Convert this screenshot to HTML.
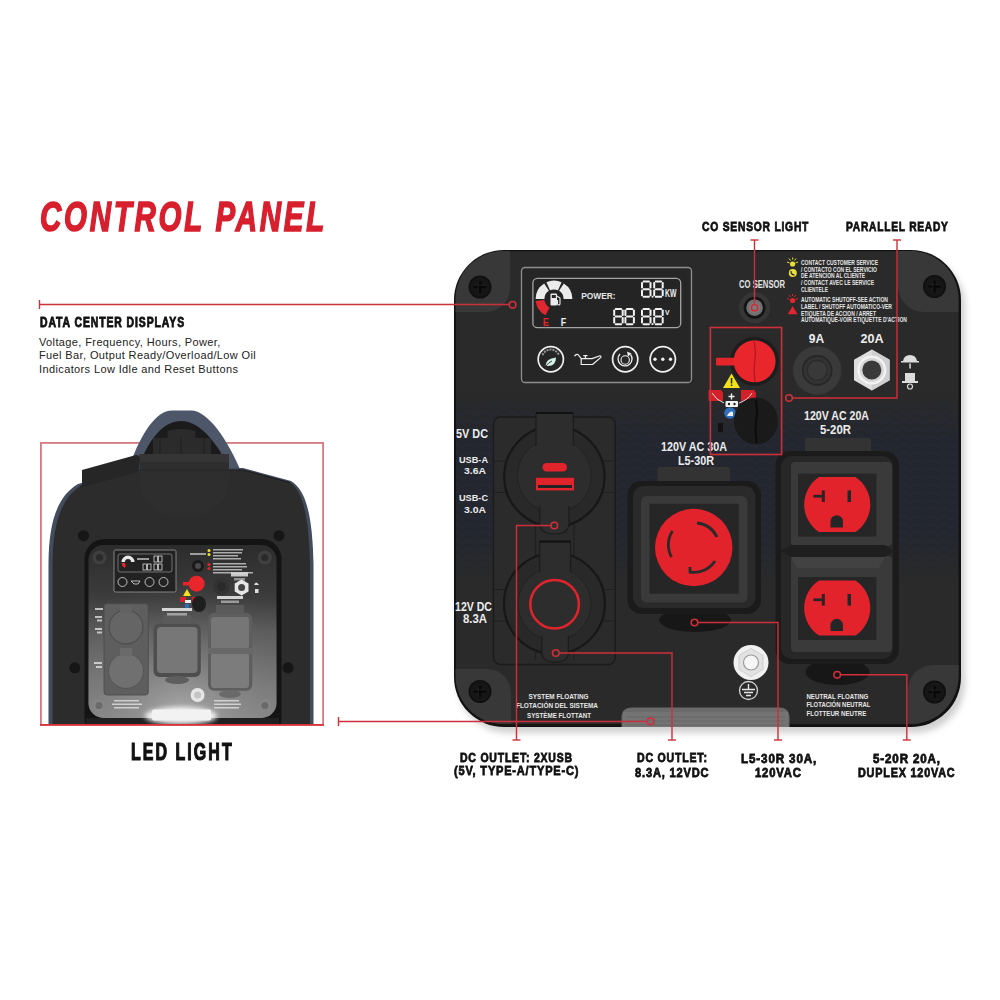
<!DOCTYPE html>
<html><head><meta charset="utf-8">
<style>
*{box-sizing:border-box;margin:0;padding:0}
html,body{width:1000px;height:1000px;background:#fff;overflow:hidden}
body{position:relative;font-family:"Liberation Sans",sans-serif}
.t{position:absolute;white-space:nowrap;transform-origin:0 0;line-height:1;font-weight:bold;color:#111;letter-spacing:0.5px;-webkit-text-stroke:0.55px #111}
svg{position:absolute;left:0;top:0}
svg text{font-family:"Liberation Sans",sans-serif}
</style></head><body>
<div class="t" style="left:39.5px;top:196.3px;font-size:42.3px;transform:scaleX(0.696);font-style:italic;color:#d71f2e;letter-spacing:4px;-webkit-text-stroke:1.6px #d71f2e">CONTROL PANEL</div>
<div class="t" style="left:39.5px;top:316.3px;font-size:13.8px;transform:scaleX(0.756);letter-spacing:1.2px;-webkit-text-stroke:0.85px #111">DATA CENTER DISPLAYS</div>
<div class="t" style="left:131.0px;top:740.6px;font-size:23.5px;transform:scaleX(0.68);letter-spacing:3px;-webkit-text-stroke:1.2px #111">LED LIGHT</div>
<div class="t" style="left:702.0px;top:220.3px;font-size:13.5px;transform:scaleX(0.764);letter-spacing:1px;-webkit-text-stroke:0.8px #111">CO SENSOR LIGHT</div>
<div class="t" style="left:846.0px;top:220.3px;font-size:13.5px;transform:scaleX(0.756);letter-spacing:1px;-webkit-text-stroke:0.8px #111">PARALLEL READY</div>
<div class="t" style="left:460.0px;top:751.3px;font-size:13.5px;transform:scaleX(0.778);letter-spacing:1px;-webkit-text-stroke:0.8px #111">DC OUTLET: 2XUSB</div>
<div class="t" style="left:454.0px;top:764.3px;font-size:13.5px;transform:scaleX(0.816);letter-spacing:1px;-webkit-text-stroke:0.8px #111">(5V, TYPE-A/TYPE-C)</div>
<div class="t" style="left:637.0px;top:751.3px;font-size:13.5px;transform:scaleX(0.784);letter-spacing:1px;-webkit-text-stroke:0.8px #111">DC OUTLET:</div>
<div class="t" style="left:635.0px;top:766.3px;font-size:13.5px;transform:scaleX(0.822);letter-spacing:1px;-webkit-text-stroke:0.8px #111">8.3A, 12VDC</div>
<div class="t" style="left:741.0px;top:752.3px;font-size:13.5px;transform:scaleX(0.862);letter-spacing:1px;-webkit-text-stroke:0.8px #111">L5-30R 30A,</div>
<div class="t" style="left:755.0px;top:766.3px;font-size:13.5px;transform:scaleX(0.836);letter-spacing:1px;-webkit-text-stroke:0.8px #111">120VAC</div>
<div class="t" style="left:873.0px;top:752.3px;font-size:13.5px;transform:scaleX(0.859);letter-spacing:1px;-webkit-text-stroke:0.8px #111">5-20R 20A,</div>
<div class="t" style="left:858.0px;top:766.3px;font-size:13.5px;transform:scaleX(0.802);letter-spacing:1px;-webkit-text-stroke:0.8px #111">DUPLEX 120VAC</div>
<div class="t" style="left:39px;top:336px;font-size:11px;line-height:13.3px;font-weight:normal;color:#222;letter-spacing:0.38px;-webkit-text-stroke:0">Voltage, Frequency, Hours, Power,<br>Fuel Bar, Output Ready/Overload/Low Oil<br>Indicators Low Idle and Reset Buttons</div>
<svg width="1000" height="1000" viewBox="0 0 1000 1000">
<defs>
  <filter id="blur3" x="-20%" y="-20%" width="140%" height="140%"><feGaussianBlur stdDeviation="3"/></filter>
  <filter id="blur1" x="-20%" y="-20%" width="140%" height="140%"><feGaussianBlur stdDeviation="1"/></filter>
  <linearGradient id="navy" x1="0" y1="0" x2="0" y2="1">
    <stop offset="0" stop-color="#1c2030" stop-opacity="0"/>
    <stop offset="0.25" stop-color="#1c2234" stop-opacity="0.75"/>
    <stop offset="0.75" stop-color="#1c2234" stop-opacity="0.75"/>
    <stop offset="1" stop-color="#1c2030" stop-opacity="0"/>
  </linearGradient>
  <pattern id="weave" width="14" height="8" patternUnits="userSpaceOnUse">
    <path d="M0,8 Q7,0 14,8" fill="none" stroke="#2c3450" stroke-width="2" opacity="0.6"/>
  </pattern>
</defs>

<!-- panel shadow -->
<rect x="458" y="256" width="507" height="477" rx="50" fill="#bdbdbd" filter="url(#blur3)" opacity="0.7"/>
<!-- panel -->
<rect x="454" y="250" width="507" height="477" rx="50" fill="#121212"/>
<rect x="456" y="251.2" width="502.5" height="473" rx="48" fill="#2a2a2a"/>
<!-- navy texture band -->
<rect x="456" y="392" width="502" height="190" fill="url(#navy)" opacity="0.6"/>
<rect x="456" y="405" width="502" height="160" fill="url(#weave)" opacity="0.25"/>

<!-- corner pads -->
<path d="M455.5,312 L455.5,299 A48,48 0 0 1 503.5,251 L510,251 L510,288 A24,24 0 0 1 486,312 Z" fill="#383838"/>
<path d="M958.5,312 L958.5,299 A48,48 0 0 0 910.5,251 L898,251 L898,286 A26,26 0 0 0 924,312 Z" fill="#383838"/>
<path d="M455.5,669 L455.5,676 A48,48 0 0 0 503.5,724 L511,724 L511,693 A24,24 0 0 0 487,669 Z" fill="#383838"/>
<path d="M958.5,665 L958.5,676 A48,48 0 0 1 910.5,724 L908,724 L908,690 A25,25 0 0 1 933,665 Z" fill="#383838"/>
<g transform="translate(480,287)"><circle r="11.5" fill="#101010"/>
    <circle r="9.8" fill="#161616"/>
    <path d="M-6,0 H6 M0,-6 V6" stroke="#080808" stroke-width="2.4"/>
    <path d="M-5.5,-1.8 H5.5 M-1.8,-5.5 V5.5" stroke="#222" stroke-width="0.8"/></g>
<g transform="translate(934.5,286.5)"><circle r="11.5" fill="#101010"/>
    <circle r="9.8" fill="#161616"/>
    <path d="M-6,0 H6 M0,-6 V6" stroke="#080808" stroke-width="2.4"/>
    <path d="M-5.5,-1.8 H5.5 M-1.8,-5.5 V5.5" stroke="#222" stroke-width="0.8"/></g>
<g transform="translate(480,691.5)"><circle r="11.5" fill="#101010"/>
    <circle r="9.8" fill="#161616"/>
    <path d="M-6,0 H6 M0,-6 V6" stroke="#080808" stroke-width="2.4"/>
    <path d="M-5.5,-1.8 H5.5 M-1.8,-5.5 V5.5" stroke="#222" stroke-width="0.8"/></g>
<g transform="translate(934.5,692)"><circle r="11.5" fill="#101010"/>
    <circle r="9.8" fill="#161616"/>
    <path d="M-6,0 H6 M0,-6 V6" stroke="#080808" stroke-width="2.4"/>
    <path d="M-5.5,-1.8 H5.5 M-1.8,-5.5 V5.5" stroke="#222" stroke-width="0.8"/></g>

<!-- LCD frame -->
<rect x="521.5" y="267.5" width="170" height="115" rx="3.5" fill="#262626" stroke="#8e8e8e" stroke-width="1.3"/>
<rect x="532.9" y="278.3" width="147.8" height="49.4" rx="4.5" fill="#242424" stroke="#a5a5a5" stroke-width="1.3"/>
<!-- gauge -->
<g transform="translate(554,299)">
  <path d="M-18.4,0 A18.4,18.4 0 0 1 -9.8,-15.6 L-5.1,-8.2 A9.6,9.6 0 0 0 -9.6,0 Z" fill="#ececec"/>
  <path d="M-7.6,-16.7 A18.4,18.4 0 0 1 7.6,-16.7 L4,-8.7 A9.6,9.6 0 0 0 -4,-8.7 Z" fill="#ececec"/>
  <path d="M9.8,-15.6 A18.4,18.4 0 0 1 18.4,0 L9.6,0 A9.6,9.6 0 0 0 5.1,-8.2 Z" fill="#ececec"/>
  <path d="M-18.3,2 A18.4,18.4 0 0 0 -8.5,16.3 L-4.4,8.5 A9.6,9.6 0 0 1 -9.5,1 Z" fill="#e0262e"/>
  <rect x="-3.5" y="-5.5" width="6.5" height="12" rx="1" fill="#ececec"/>
  <rect x="-2.2" y="-4" width="4" height="3" fill="#242424"/>
  <path d="M3,-3 L6,-1 L6,5 A1.3,1.3 0 0 1 3.5,5 L3.5,1" fill="none" stroke="#ececec" stroke-width="1.1"/>
</g>
<text x="542.8" y="325.9" font-size="10" font-weight="bold" fill="#e0262e" textLength="6.2" lengthAdjust="spacingAndGlyphs">E</text>
<text x="560.7" y="325.9" font-size="10" font-weight="bold" fill="#eeeeee" textLength="5.5" lengthAdjust="spacingAndGlyphs">F</text>
<text x="581.2" y="299.2" font-size="9.4" font-weight="bold" fill="#e6e6e6" textLength="34.4" lengthAdjust="spacingAndGlyphs">POWER:</text>
<g fill="#f2f2f2">
  <g transform="translate(641,280.6)"><rect x="1.6" y="0" width="7.3" height="2" rx="0.8"/>
    <rect x="1.6" y="7.6" width="7.3" height="2" rx="0.8"/>
    <rect x="1.6" y="15.2" width="7.3" height="2" rx="0.8"/>
    <rect x="0" y="1.4" width="2" height="6.6" rx="0.8"/>
    <rect x="0" y="9" width="2" height="6.6" rx="0.8"/>
    <rect x="8.5" y="1.4" width="2" height="6.6" rx="0.8"/>
    <rect x="8.5" y="9" width="2" height="6.6" rx="0.8"/></g>
  <g transform="translate(653.2,280.6)"><rect x="1.6" y="0" width="7.3" height="2" rx="0.8"/>
    <rect x="1.6" y="7.6" width="7.3" height="2" rx="0.8"/>
    <rect x="1.6" y="15.2" width="7.3" height="2" rx="0.8"/>
    <rect x="0" y="1.4" width="2" height="6.6" rx="0.8"/>
    <rect x="0" y="9" width="2" height="6.6" rx="0.8"/>
    <rect x="8.5" y="1.4" width="2" height="6.6" rx="0.8"/>
    <rect x="8.5" y="9" width="2" height="6.6" rx="0.8"/></g>
  <rect x="651.6" y="295.8" width="1.8" height="1.8"/>
  <text x="665" y="297.4" font-size="10" font-weight="bold" textLength="11.4" lengthAdjust="spacingAndGlyphs">KW</text>
  <g transform="translate(613.2,308)"><rect x="1.6" y="0" width="7.3" height="2" rx="0.8"/>
    <rect x="1.6" y="7.6" width="7.3" height="2" rx="0.8"/>
    <rect x="1.6" y="15.2" width="7.3" height="2" rx="0.8"/>
    <rect x="0" y="1.4" width="2" height="6.6" rx="0.8"/>
    <rect x="0" y="9" width="2" height="6.6" rx="0.8"/>
    <rect x="8.5" y="1.4" width="2" height="6.6" rx="0.8"/>
    <rect x="8.5" y="9" width="2" height="6.6" rx="0.8"/></g>
  <g transform="translate(624.4,308)"><rect x="1.6" y="0" width="7.3" height="2" rx="0.8"/>
    <rect x="1.6" y="7.6" width="7.3" height="2" rx="0.8"/>
    <rect x="1.6" y="15.2" width="7.3" height="2" rx="0.8"/>
    <rect x="0" y="1.4" width="2" height="6.6" rx="0.8"/>
    <rect x="0" y="9" width="2" height="6.6" rx="0.8"/>
    <rect x="8.5" y="1.4" width="2" height="6.6" rx="0.8"/>
    <rect x="8.5" y="9" width="2" height="6.6" rx="0.8"/></g>
  <g transform="translate(641,308)"><rect x="1.6" y="0" width="7.3" height="2" rx="0.8"/>
    <rect x="1.6" y="7.6" width="7.3" height="2" rx="0.8"/>
    <rect x="1.6" y="15.2" width="7.3" height="2" rx="0.8"/>
    <rect x="0" y="1.4" width="2" height="6.6" rx="0.8"/>
    <rect x="0" y="9" width="2" height="6.6" rx="0.8"/>
    <rect x="8.5" y="1.4" width="2" height="6.6" rx="0.8"/>
    <rect x="8.5" y="9" width="2" height="6.6" rx="0.8"/></g>
  <g transform="translate(653.2,308)"><rect x="1.6" y="0" width="7.3" height="2" rx="0.8"/>
    <rect x="1.6" y="7.6" width="7.3" height="2" rx="0.8"/>
    <rect x="1.6" y="15.2" width="7.3" height="2" rx="0.8"/>
    <rect x="0" y="1.4" width="2" height="6.6" rx="0.8"/>
    <rect x="0" y="9" width="2" height="6.6" rx="0.8"/>
    <rect x="8.5" y="1.4" width="2" height="6.6" rx="0.8"/>
    <rect x="8.5" y="9" width="2" height="6.6" rx="0.8"/></g>
  <rect x="651.6" y="323.2" width="1.8" height="1.8"/>
  <text x="665" y="314.5" font-size="7" font-weight="bold" textLength="4.5" lengthAdjust="spacingAndGlyphs">V</text>
</g>
<!-- buttons -->
<g fill="none" stroke="#f0f0f0" stroke-width="1.7">
  <circle cx="550.8" cy="359.2" r="12.6"/>
  <circle cx="625.2" cy="359.2" r="12.6"/>
  <circle cx="662.8" cy="359.2" r="12.6"/>
  <path d="M620,354 A7,7 0 1 0 630.5,354.5" stroke-width="1.3"/>
  <circle cx="625.2" cy="360" r="4.2" stroke-width="1.1"/>
  <path d="M574.5,356.3 Q576,353.6 578,354.5 L581.2,358.6 H592 L600,355.8 Q601.6,356.4 600.6,357.6 L592.5,364.5 H581.2 V358.6 M583.3,355.6 H587.5 M585.4,355.6 V358.6" stroke-width="1.2" stroke-linejoin="round"/>
</g>
<path d="M627,351.5 L631.5,353.5 L628,356.5 Z" fill="#f0f0f0"/>
<path d="M545.5,365.5 Q546,358.5 556,357.5 Q556,366 548,366 Q546.5,366 545.5,365.5 Z" fill="#d5f0e6"/>
<path d="M546,366 Q549,362 552,361" stroke="#2a2a2a" stroke-width="0.9" fill="none"/>
<path d="M542.5,355 A9,9 0 0 1 559,355" stroke="#9a9a9a" stroke-width="2" fill="none" stroke-dasharray="2 1"/>
<g fill="#f0f0f0"><circle cx="655" cy="359.2" r="1.7"/><circle cx="662.8" cy="359.2" r="1.7"/><circle cx="670.5" cy="359.2" r="1.7"/></g>

<!-- CO sensor -->
<text x="739" y="288.3" font-size="10.5" font-weight="bold" fill="#e2e2e2" textLength="46" lengthAdjust="spacingAndGlyphs">CO SENSOR</text>
<circle cx="754.6" cy="307.7" r="15.6" fill="#363636"/>
<circle cx="754.6" cy="307.7" r="11" fill="#141414"/>
<circle cx="754.6" cy="307.7" r="8.3" fill="#707070"/>
<circle cx="754.6" cy="307.7" r="5.5" fill="#7c7c7c"/>

<!-- warning labels -->
<g fill="#e6e6e6" font-size="6.6" font-weight="bold">
  <text x="801" y="264.8" textLength="77" lengthAdjust="spacingAndGlyphs">CONTACT CUSTOMER SERVICE</text>
  <text x="801" y="271.6" textLength="76" lengthAdjust="spacingAndGlyphs">/ CONTACTO CON EL SERVICIO</text>
  <text x="801" y="278.3" textLength="64" lengthAdjust="spacingAndGlyphs">DE ATENCION AL CLIENTE</text>
  <text x="801" y="285" textLength="73" lengthAdjust="spacingAndGlyphs">/ CONTACT AVEC LE SERVICE</text>
  <text x="801" y="291.7" textLength="27" lengthAdjust="spacingAndGlyphs">CLIENTELE</text>
  <text x="801" y="302.2" textLength="87" lengthAdjust="spacingAndGlyphs">AUTOMATIC SHUTOFF-SEE ACTION</text>
  <text x="801" y="308.9" textLength="91" lengthAdjust="spacingAndGlyphs">LABEL / SHUTOFF AUTOMATICO-VER</text>
  <text x="801" y="315.6" textLength="75" lengthAdjust="spacingAndGlyphs">ETIQUETA DE ACCION / ARRET</text>
  <text x="801" y="322.3" textLength="106" lengthAdjust="spacingAndGlyphs">AUTOMATIQUE-VOIR ETIQUETTE D'ACTION</text>
</g>
<g fill="#e8e03a" stroke="#e8e03a">
  <circle cx="792.6" cy="264" r="2.6" stroke="none"/>
  <path d="M787,262 L789.5,263 M798,262 L795.5,263 M789,258.5 L790.5,260.5 M796,258.5 L794.5,260.5 M792.6,257.5 V259.5" stroke-width="1" fill="none"/>
  <circle cx="792.8" cy="273" r="4" stroke="none"/>
</g>
<path d="M791,271 Q790.5,274.5 794.5,275.2" stroke="#2a2a2a" stroke-width="1.2" fill="none"/>
<g fill="#e0262e" stroke="#e0262e">
  <circle cx="792.6" cy="300.5" r="2.6" stroke="none"/>
  <path d="M787,298.5 L789.5,299.5 M798,298.5 L795.5,299.5 M789,295 L790.5,297 M796,295 L794.5,297 M792.6,294 V296" stroke-width="1" fill="none"/>
  <path d="M792.6,306 L797.5,314.3 H787.7 Z" stroke="none"/>
</g>
<!-- switch area -->
<circle cx="754.6" cy="361.3" r="24.5" fill="#1d1d1d"/>
<rect x="716" y="357.8" width="22" height="7.7" rx="1" fill="#e3242b"/>
<circle cx="754.6" cy="361.3" r="21" fill="#e8262c"/>
<path d="M754,340.5 L755.5,352 L754,370 L755,382" stroke="#b01a20" stroke-width="1.3" fill="none"/>
<path d="M731.5,373.5 L740,388 H723 Z" fill="#f2e21c"/>
<rect x="730.8" y="378" width="1.5" height="5.5" fill="#222"/><rect x="730.8" y="384.5" width="1.5" height="1.5" fill="#222"/>
<path d="M708.5,390 H721 L723,393 V401 H708.5 Z" fill="#d42029"/>
<path d="M741,390 H754 L756,393 V401 H741 Z" fill="#d42029"/>
<path d="M712,393 Q716,400 724,403 M752,393 Q748,400 739,403" stroke="#eee" stroke-width="0.9" fill="none"/>
<path d="M728.5,396.5 H734.5 M731.5,393.5 V399.5" stroke="#f2f2f2" stroke-width="1.4"/>
<rect x="725.5" y="401" width="12.5" height="6" rx="1" fill="#f2f2f2"/>
<circle cx="729" cy="404" r="1.2" fill="#222"/><circle cx="734.5" cy="404" r="1.2" fill="#222"/>
<circle cx="730" cy="413" r="5.8" fill="#2f6fbf"/>
<path d="M727,416 Q730,410 733,412 L733,416 Z" fill="#eee"/>
<ellipse cx="756" cy="421" rx="22" ry="23.5" fill="#1a1a1a"/>
<path d="M756,400 L757,412 L755.5,430 L756.5,443" stroke="#0c0c0c" stroke-width="2" fill="none"/>
<rect x="718" y="423" width="5" height="9" fill="#121212"/>
<!-- 9A / 20A -->
<text x="808.8" y="343" font-size="13.5" font-weight="bold" fill="#efefef" textLength="15.4" lengthAdjust="spacingAndGlyphs">9A</text>
<text x="860.6" y="343" font-size="13.5" font-weight="bold" fill="#efefef" textLength="23.1" lengthAdjust="spacingAndGlyphs">20A</text>
<circle cx="817.2" cy="370.4" r="24.5" fill="#3a3a3a"/>
<circle cx="817.2" cy="370.4" r="24.5" fill="none" stroke="#2c2c2c" stroke-width="1.6" stroke-dasharray="1.2 1.6"/>
<circle cx="817.2" cy="370.4" r="14.5" fill="#333" stroke="#262626" stroke-width="1.6"/>
<circle cx="817.2" cy="370.4" r="10" fill="#393939" stroke="#2b2b2b" stroke-width="1.2"/>
<path d="M871.8,349.5 L889.6,359.7 L889.6,380.3 L871.8,390.5 L854,380.3 L854,359.7 Z" fill="#dedede"/>
<path d="M871.8,349.5 L889.6,359.7 L889.6,380.3 L871.8,390.5" fill="#cfcfcf"/>
<circle cx="871.8" cy="370" r="14.5" fill="#f2f2f2"/>
<circle cx="871.8" cy="370" r="12" fill="#d5d5d5"/>
<circle cx="871.8" cy="370" r="9.5" fill="#3a3a3a"/>
<!-- parallel icons -->
<g fill="#dcdcdc">
  <path d="M903,361 Q904,355 910,355 Q916,355 917,361 H919 V362.5 H901 V361 Z"/>
  <rect x="909.3" y="363.5" width="1.5" height="5"/>
  <rect x="905" y="373" width="10" height="8"/>
  <path d="M902,381 H918 V383 H902 Z"/>
  <circle cx="910" cy="386.5" r="2.5" fill="none" stroke="#dcdcdc" stroke-width="1.2"/>
</g>
<!-- AC 20A label -->
<text x="804" y="420.3" font-size="13.2" font-weight="bold" fill="#ededed" textLength="65" lengthAdjust="spacingAndGlyphs">120V AC 20A</text>
<text x="820" y="434" font-size="13.2" font-weight="bold" fill="#ededed" textLength="31" lengthAdjust="spacingAndGlyphs">5-20R</text>
<text x="661" y="450.8" font-size="13.2" font-weight="bold" fill="#ededed" textLength="66" lengthAdjust="spacingAndGlyphs">120V AC 30A</text>
<text x="678" y="465" font-size="13.2" font-weight="bold" fill="#ededed" textLength="36" lengthAdjust="spacingAndGlyphs">L5-30R</text>

<!-- DC labels -->
<g fill="#ededed" font-weight="bold">
  <text x="456" y="438" font-size="12.5" textLength="32" lengthAdjust="spacingAndGlyphs">5V DC</text>
  <text x="459" y="462.5" font-size="9.5" textLength="29" lengthAdjust="spacingAndGlyphs">USB-A</text>
  <text x="464" y="474" font-size="9.5" textLength="22" lengthAdjust="spacingAndGlyphs">3.6A</text>
  <text x="459" y="501" font-size="9.5" textLength="29" lengthAdjust="spacingAndGlyphs">USB-C</text>
  <text x="464" y="512.5" font-size="9.5" textLength="22" lengthAdjust="spacingAndGlyphs">3.0A</text>
  <text x="455" y="610.5" font-size="12.5" textLength="37" lengthAdjust="spacingAndGlyphs">12V DC</text>
  <text x="463" y="623" font-size="12.5" textLength="24" lengthAdjust="spacingAndGlyphs">8.3A</text>
</g>
<!-- DC plate -->
<rect x="493.5" y="417" width="121.7" height="247.5" rx="7" fill="#2b2b2b" stroke="#1b1b1b" stroke-width="1.4"/>
<path d="M494,461 H615 M494,492.5 H615 M494,589.5 H615 M494,621 H615 M535.5,430 V660 M574,430 V660" stroke="#1f1f1f" stroke-width="1.1"/>
<g stroke="#171717" stroke-width="2.2">
  <circle cx="554.4" cy="476.4" r="50.2" fill="#292929"/>
  <circle cx="554.4" cy="603.5" r="50.5" fill="#292929"/>
</g>
<g fill="#2d2d2d" stroke="#222" stroke-width="1">
  <circle cx="554.4" cy="475.5" r="37"/>
  <circle cx="554.4" cy="604" r="36.5"/>
</g>
<g fill="#2d2d2d" stroke="#1c1c1c" stroke-width="1.2">
  <path d="M536,446 V414 Q536,412.7 538,412.7 H571.5 Q573.3,412.7 573.3,414 V446"/>
  <path d="M539.7,506 V523 Q539.7,534 554.4,534 Q569,534 569,523 V506"/>
  <path d="M539.7,572 V542 H570.5 V572"/>
  <path d="M541.8,636 V652 Q541.8,662.2 555,662.2 Q568.4,662.2 568.4,652 V636"/>
</g>
<rect x="537" y="414" width="35" height="34" fill="#2d2d2d"/>
<rect x="540.7" y="500" width="27.3" height="8" fill="#2d2d2d"/>
<rect x="540.7" y="543" width="28.8" height="32" fill="#2d2d2d"/>
<rect x="542.8" y="630" width="24.6" height="8" fill="#2d2d2d"/>
<path d="M536,413 H573.3 M539.7,541.5 H570.5" stroke="#121212" stroke-width="2"/>
<rect x="542.5" y="463" width="24.5" height="8.5" rx="4.25" fill="#e1242c"/>
<rect x="536" y="477.8" width="38" height="12.6" fill="#e1242c"/>
<rect x="538" y="485" width="34" height="3" fill="#232323"/>
<circle cx="554.6" cy="604.2" r="24.3" fill="none" stroke="#e1242c" stroke-width="2.5"/>

<!-- L5-30R housing -->
<rect x="657.5" y="467" width="72.5" height="16" rx="2" fill="#333"/>
<ellipse cx="695" cy="620" rx="36" ry="12" fill="#171717"/>
<rect x="627.5" y="481" width="133.5" height="133" rx="14" fill="#1b1b1b"/>
<rect x="633" y="486" width="122.5" height="122" rx="11" fill="#2a2a2a"/>
<rect x="641" y="496" width="106.5" height="106.5" rx="6" fill="#3a3a3a"/>
<rect x="649.5" y="503.75" width="89.25" height="90" fill="#262626"/>
<circle cx="693.75" cy="547.5" r="38.75" fill="#e2232b"/>
<g fill="none" stroke="#2a2a2a" stroke-width="2.8">
  <path d="M672.5,531 A25,25 0 0 0 671.5,557"/>
  <path d="M697,523 A25,25 0 0 1 717,537"/>
  <path d="M715,561 A25,25 0 0 1 690,572 V567"/>
</g>

<!-- duplex housing -->
<rect x="805" y="438" width="66" height="15" rx="2" fill="#333"/>
<ellipse cx="837.5" cy="672" rx="32" ry="13" fill="#171717"/>
<rect x="775.6" y="451" width="123.2" height="213" rx="14" fill="#1b1b1b"/>
<rect x="781" y="456" width="112" height="203" rx="11" fill="#272727"/>
<rect x="791" y="462" width="101" height="84" rx="4" fill="#3a3a3a"/>
<rect x="791" y="556" width="101" height="96" rx="4" fill="#3a3a3a"/>
<path d="M780,551 L791,545 H885 L894,551 L885,557 H791 Z" fill="#1f1f1f"/>
<path d="M791,557 H885 L879,568 H797 Z" fill="#424242"/>
<rect x="798" y="473.6" width="78.4" height="63" fill="#262626"/>
<rect x="798" y="577" width="78.4" height="63" fill="#262626"/>
<g fill="#e2232b">
  <path d="M818.9,477 H855.5 A33,33 0 0 1 855.5,532 H818.9 A33,33 0 0 1 818.9,477 Z"/>
  <path d="M818.9,580.5 H855.5 A33,33 0 0 1 855.5,635.5 H818.9 A33,33 0 0 1 818.9,580.5 Z"/>
</g>
<g fill="#262626">
  <rect x="813.4" y="494.8" width="11" height="2.8"/><rect x="821.8" y="490.4" width="3" height="11.6"/>
  <rect x="847.5" y="490.4" width="3.5" height="11.6"/>
  <path d="M830.5,527.4 V521.5 A6.25,6.25 0 0 1 843,521.5 V527.4 Z"/>
  <rect x="813.4" y="598.4" width="11" height="2.8"/><rect x="821.8" y="594" width="3" height="11.6"/>
  <rect x="847.5" y="594" width="3.5" height="11.6"/>
  <path d="M830.5,631 V625.1 A6.25,6.25 0 0 1 843,625.1 V631 Z"/>
</g>

<!-- ground lug -->
<circle cx="751" cy="662.5" r="17.5" fill="#f0f0f0"/>
<path d="M751,648.5 L763,655.5 V669.5 L751,676.5 L739,669.5 V655.5 Z" fill="#e2e2e2" stroke="#cfcfcf" stroke-width="1"/>
<circle cx="751" cy="662.5" r="7.5" fill="#f6f6f6" stroke="#9a9a9a" stroke-width="1.2"/>
<circle cx="748.5" cy="690.5" r="9" fill="none" stroke="#d6d6d6" stroke-width="1.3"/>
<path d="M748.5,684 V689.5 M742,689.5 H755 M744,692.5 H753 M746,695.5 H751" stroke="#e6e6e6" stroke-width="1.4"/>
<!-- floating texts -->
<g fill="#e6e6e6" font-size="8" font-weight="bold">
  <text x="528.5" y="699.3" textLength="60" lengthAdjust="spacingAndGlyphs">SYSTEM FLOATING</text>
  <text x="516" y="708.3" textLength="82" lengthAdjust="spacingAndGlyphs">FLOTACIÓN DEL SISTEMA</text>
  <text x="527" y="718.3" textLength="64" lengthAdjust="spacingAndGlyphs">SYSTÈME FLOTTANT</text>
  <text x="806.4" y="698.8" textLength="62" lengthAdjust="spacingAndGlyphs">NEUTRAL FLOATING</text>
  <text x="806.4" y="707.3" textLength="64" lengthAdjust="spacingAndGlyphs">FLOTACIÓN NEUTRAL</text>
  <text x="806.4" y="715.8" textLength="60" lengthAdjust="spacingAndGlyphs">FLOTTEUR NEUTRE</text>
</g>
<!-- LED window -->
<path d="M621.5,727 L621.5,718 Q621.5,707.5 632,707.5 H779 Q789.5,707.5 789.5,718 V727 Z" fill="#6a6a6a"/>
<path d="M623,712 H788 V727 H623 Z" fill="#7c7c7c" opacity="0.6"/>
<path d="M626,717 H785 M626,721 H785 M626,725 H785" stroke="#5a5a5a" stroke-width="1" opacity="0.5"/>
<!-- callout lines -->
<g stroke="#cf2f3a" stroke-width="1.4" fill="none">
  <path d="M39.5,304.5 H509"/>
  <path d="M39.5,300 V309"/>
  <circle cx="512.6" cy="304.8" r="3.3" stroke-width="1.6"/>
  <path d="M754.5,240 V304.5"/>
  <path d="M750.5,240 H758.5"/>
  <circle cx="754.6" cy="307.7" r="3.2" stroke-width="1.6"/>
  <path d="M897,240 V398 H792.5"/>
  <path d="M893,240 H901"/>
  <circle cx="789" cy="398" r="3.3" stroke-width="1.6"/>
  <rect x="710.4" y="327.5" width="71.2" height="127" stroke-width="1.6"/>
  <path d="M551,525.5 H516.5 V740"/>
  <path d="M512.5,740 H520.5"/>
  <circle cx="554.3" cy="525.5" r="3.3" stroke-width="1.6"/>
  <path d="M559,653 H672 V740"/>
  <path d="M668,740 H676"/>
  <circle cx="555.8" cy="653" r="3.3" stroke-width="1.6"/>
  <path d="M698,622.5 H778 V740"/>
  <path d="M774,740 H782"/>
  <circle cx="694.5" cy="622.5" r="3.3" stroke-width="1.6"/>
  <path d="M840.5,674.8 H906.8 V740"/>
  <path d="M902.8,740 H910.8"/>
  <circle cx="837.2" cy="674.8" r="3.3" stroke-width="1.6"/>
  <path d="M338.5,721.5 H647"/>
  <path d="M338.5,717 V726"/>
  <circle cx="650.6" cy="721.3" r="3.3" stroke-width="1.6"/>
</g>
<!-- LED generator -->
<defs>
  <linearGradient id="lit" x1="0" y1="0" x2="0" y2="1">
    <stop offset="0" stop-color="#2c2c2c"/>
    <stop offset="0.3" stop-color="#3c3c3c"/>
    <stop offset="0.5" stop-color="#5c5c5c"/>
    <stop offset="0.8" stop-color="#7c7c7c"/>
    <stop offset="1" stop-color="#8e8e8e"/>
  </linearGradient>
  <radialGradient id="glow" cx="0.5" cy="1" r="0.8">
    <stop offset="0" stop-color="#b0b0b0" stop-opacity="0.9"/>
    <stop offset="0.5" stop-color="#808080" stop-opacity="0.4"/>
    <stop offset="1" stop-color="#505050" stop-opacity="0"/>
  </radialGradient>
  <filter id="blur2" x="-50%" y="-50%" width="200%" height="200%"><feGaussianBlur stdDeviation="2.5"/></filter>
  <clipPath id="genclip"><rect x="0" y="380" width="340" height="345"/></clipPath>
</defs>
<rect x="40.9" y="442.9" width="282.2" height="282" fill="none" stroke="#d47a80" stroke-width="1.8"/>
<g clip-path="url(#genclip)">
  <!-- handle -->
  <path d="M131,462 C141,434 156,410.5 172,410.5 H191 C208,410.5 228,440 242,474 L136,474 Z" fill="#4d5769"/>
  <path d="M143,456 C152,436 165,421 181,421 C198,421 212,438 223,456 Z" fill="#1b1b1b"/>
  <path d="M153,456 V438 H167.5 V431 Q181,427 195.5,431 V438 H211 V456 Z" fill="#2b2b2b"/>
  <path d="M160,438 V456 M204,438 V456 M181,438 V456" stroke="#1d1d1d" stroke-width="0.8"/>
<!-- body outline -->
  <path d="M48.5,730 V565 C48.5,525 56,497 78,484 L138,468 H243 L291,481 C306,490 312.5,515 313.5,565 V730 Z" fill="#434c5c"/>
  <path d="M52.5,730 V566 C52.5,527 60,499 80,486.5 L139,470 H243 L290,482.5 C303,491 309,517 310,566 V730 Z" fill="#2c2c2c"/>
  <path d="M80,486.5 L139,470 H243 L290,482.5" fill="none" stroke="#1c1c1c" stroke-width="1.2"/>
<!-- neck -->
  <path d="M139.5,454 H229 V478 Q229,515 184,517 Q139.5,515 139.5,478 Z" fill="#2e2e2e"/>
  <path d="M139.5,454 H229 V462 H139.5 Z" fill="#353535"/>
  <path d="M140,470 H228.5" stroke="#262626" stroke-width="1"/>
<!-- flap -->
  <path d="M82,470 L136,455 Q140,455 140,459 L139,468 Q138,472 134,473 L86,486 Q82,487 82,483 Z" fill="#262626"/>
  <!-- body screws -->
  <g fill="#161616"><circle cx="83.5" cy="535.7" r="5.5"/><circle cx="279" cy="535.7" r="5.5"/><circle cx="74.8" cy="667.8" r="5.5"/><circle cx="288" cy="667.8" r="5.5"/></g>
  <!-- inner panel -->
  <rect x="84.5" y="539" width="197" height="200" rx="20" fill="#141414"/>
  <rect x="88.5" y="545" width="188" height="173" rx="15" fill="url(#lit)"/>
  <rect x="88.5" y="545" width="188" height="173" rx="15" fill="url(#glow)"/>
  <!-- pads -->
  <g fill="#4a4a4a" opacity="0.6"><circle cx="99.5" cy="557.5" r="7"/><circle cx="264.8" cy="557.5" r="7"/></g>
  <g fill="#2a2a2a"><circle cx="99.5" cy="557.5" r="3.5"/><circle cx="264.8" cy="557.5" r="3.5"/></g>
  <g fill="#888" opacity="0.7"><circle cx="99" cy="705.5" r="6"/><circle cx="264.9" cy="705.5" r="6"/></g>
  <g fill="#6a6a6a"><circle cx="99" cy="705.5" r="3.5"/><circle cx="264.9" cy="705.5" r="3.5"/></g>
  <!-- mini LCD -->
  <rect x="114" y="550" width="62" height="42" rx="1.5" fill="#222" stroke="#9a9a9a" stroke-width="0.8"/>
  <rect x="118" y="554" width="54" height="18" rx="2" fill="none" stroke="#aaa" stroke-width="0.6"/>
  <path d="M121.5,562 A6.5,6.5 0 0 1 134.5,562 L131,562 A3,3 0 0 0 125,562 Z" fill="#e8e8e8"/>
  <path d="M121.5,563 A6.5,6.5 0 0 0 124.5,568 L126,565.5 A3,3 0 0 1 125,563 Z" fill="#e0262e"/>
  <g fill="#eee"><rect x="154" y="556" width="3.5" height="6" fill="none" stroke="#eee" stroke-width="0.7"/><rect x="158.5" y="556" width="3.5" height="6" fill="none" stroke="#eee" stroke-width="0.7"/>
  <rect x="143" y="564" width="3.5" height="6" fill="none" stroke="#eee" stroke-width="0.7"/><rect x="147.5" y="564" width="3.5" height="6" fill="none" stroke="#eee" stroke-width="0.7"/><rect x="154" y="564" width="3.5" height="6" fill="none" stroke="#eee" stroke-width="0.7"/><rect x="158.5" y="564" width="3.5" height="6" fill="none" stroke="#eee" stroke-width="0.7"/>
  <rect x="137" y="558" width="12" height="2" opacity="0.6"/></g>
  <g fill="none" stroke="#e0e0e0" stroke-width="0.8"><circle cx="122.5" cy="582" r="4.5"/><circle cx="149.5" cy="582" r="4.5"/><circle cx="163.5" cy="582" r="4.5"/><path d="M131,581 H140 L138,584 H134 Z"/></g>
  <!-- mini CO / labels -->
  <circle cx="198" cy="566" r="6" fill="#1a1a1a"/><circle cx="198" cy="566" r="3" fill="#4a4a4a"/>
  <rect x="190" y="553" width="16" height="2" fill="#cfcfcf" opacity="0.7"/>
  <g fill="#d8d8d8" opacity="0.75"><rect x="213" y="549" width="30" height="1.5"/><rect x="213" y="552" width="29" height="1.5"/><rect x="213" y="555" width="25" height="1.5"/><rect x="213" y="558" width="28" height="1.5"/><rect x="213" y="563" width="33" height="1.5"/><rect x="213" y="566" width="34" height="1.5"/><rect x="213" y="569" width="29" height="1.5"/><rect x="213" y="572" width="40" height="1.5"/></g>
  <circle cx="209" cy="550.5" r="1.5" fill="#e8e03a"/><circle cx="209" cy="554.5" r="1.5" fill="#e8e03a"/><circle cx="209" cy="564.5" r="1.5" fill="#e0262e"/><circle cx="209" cy="568.5" r="1.5" fill="#e0262e"/>
  <!-- mini switch -->
  <rect x="183" y="582" width="9" height="3.5" fill="#e2242b"/>
  <circle cx="196.6" cy="583.7" r="8" fill="#e8262c"/>
  <path d="M187,589 L191,596 H183 Z" fill="#f2e21c"/>
  <rect x="180" y="597" width="6" height="5" fill="#d42029"/><rect x="192" y="597" width="6" height="5" fill="#d42029"/>
  <rect x="185" y="600" width="6" height="3" fill="#eee"/><circle cx="187" cy="606" r="2.3" fill="#2f6fbf"/>
  <ellipse cx="199" cy="604" rx="7" ry="8" fill="#1e1e1e"/>
  <circle cx="221.3" cy="586.5" r="8.5" fill="#333"/><circle cx="221.3" cy="586.5" r="4.5" fill="#2a2a2a"/>
  <path d="M241.6,579.5 L248.5,583.5 V591.5 L241.6,595.5 L234.7,591.5 V583.5 Z" fill="#e6e6e6"/><circle cx="241.6" cy="587.5" r="3.5" fill="#444"/>
  <g fill="#ddd"><path d="M254,585 Q256,580 259,585 Z"/><rect x="255" y="589" width="3.5" height="4"/></g>
  <g fill="#efefef"><rect x="231" y="572.5" width="17" height="4" opacity="0.8"/><rect x="234" y="578" width="11" height="2.5" opacity="0.5"/></g>
  <!-- mini outlets -->
  <rect x="104" y="603.7" width="44.3" height="91.3" rx="3" fill="#5e5e5e" stroke="#4a4a4a" stroke-width="0.8"/>
  <circle cx="126" cy="627" r="17" fill="#656565" stroke="#474747" stroke-width="1"/>
  <circle cx="126" cy="671" r="17.5" fill="#707070" stroke="#555" stroke-width="1"/>
  <rect x="120" y="605" width="12" height="8" fill="#626262"/><rect x="120" y="648" width="12" height="8" fill="#6a6a6a"/>
  <g fill="#e8e8e8" opacity="0.75"><rect x="95" y="608" width="8" height="2"/><rect x="95" y="616" width="7" height="2"/><rect x="97" y="619.5" width="5" height="2"/><rect x="95" y="628" width="7" height="2"/><rect x="97" y="631.5" width="5" height="2"/><rect x="94" y="662" width="8" height="2"/><rect x="96" y="666" width="6" height="2"/></g>
  <rect x="153.5" y="623.6" width="47.3" height="53.4" rx="6" fill="#4e4e4e"/>
  <rect x="157" y="627" width="40.5" height="46" rx="4" fill="#777"/>
  <rect x="163" y="615" width="28" height="9" fill="#5a5a5a"/>
  <ellipse cx="177" cy="680" rx="12" ry="4" fill="#5e5e5e"/>
  <g fill="#eee" opacity="0.85"><rect x="162" y="608" width="30" height="3"/><rect x="167" y="613" width="20" height="2.5" opacity="0.6"/></g>
  <rect x="208" y="613" width="44.3" height="77.8" rx="6" fill="#5e5e5e"/>
  <rect x="211" y="617" width="38" height="32" rx="3" fill="#767676"/>
  <rect x="211" y="653" width="38" height="35" rx="3" fill="#7c7c7c"/>
  <path d="M208,648 H252 V654 H208 Z" fill="#686868"/>
  <rect x="216" y="605" width="28" height="9" fill="#5a5a5a"/>
  <ellipse cx="230" cy="694" rx="11" ry="4" fill="#6a6a6a"/>
  <g fill="#eee" opacity="0.85"><rect x="217" y="596" width="26" height="3"/><rect x="221" y="600.5" width="18" height="2.5" opacity="0.6"/></g>
  <circle cx="197.6" cy="695" r="7" fill="#e6e6e6"/><circle cx="197.6" cy="695" r="3.5" fill="#c4c4c4"/>
  <g fill="#eee" opacity="0.7"><rect x="114" y="700" width="25" height="1.5"/><rect x="112" y="703.5" width="30" height="1.5"/><rect x="114" y="707" width="25" height="1.5"/><rect x="214" y="700" width="25" height="1.5"/><rect x="214" y="703.5" width="27" height="1.5"/><rect x="214" y="707" width="25" height="1.5"/></g>
  <!-- LED glow -->
  <rect x="86" y="718" width="193" height="10" fill="#202020"/>
  <ellipse cx="181" cy="716" rx="36" ry="9" fill="#ffffff" filter="url(#blur2)" opacity="0.9"/>
  <rect x="152" y="709.5" width="59" height="11" rx="2" fill="#f2f2f2"/>
</g>
<path d="M40,724.9 H324" stroke="#d8323a" stroke-width="1.8"/>
</svg></body></html>
